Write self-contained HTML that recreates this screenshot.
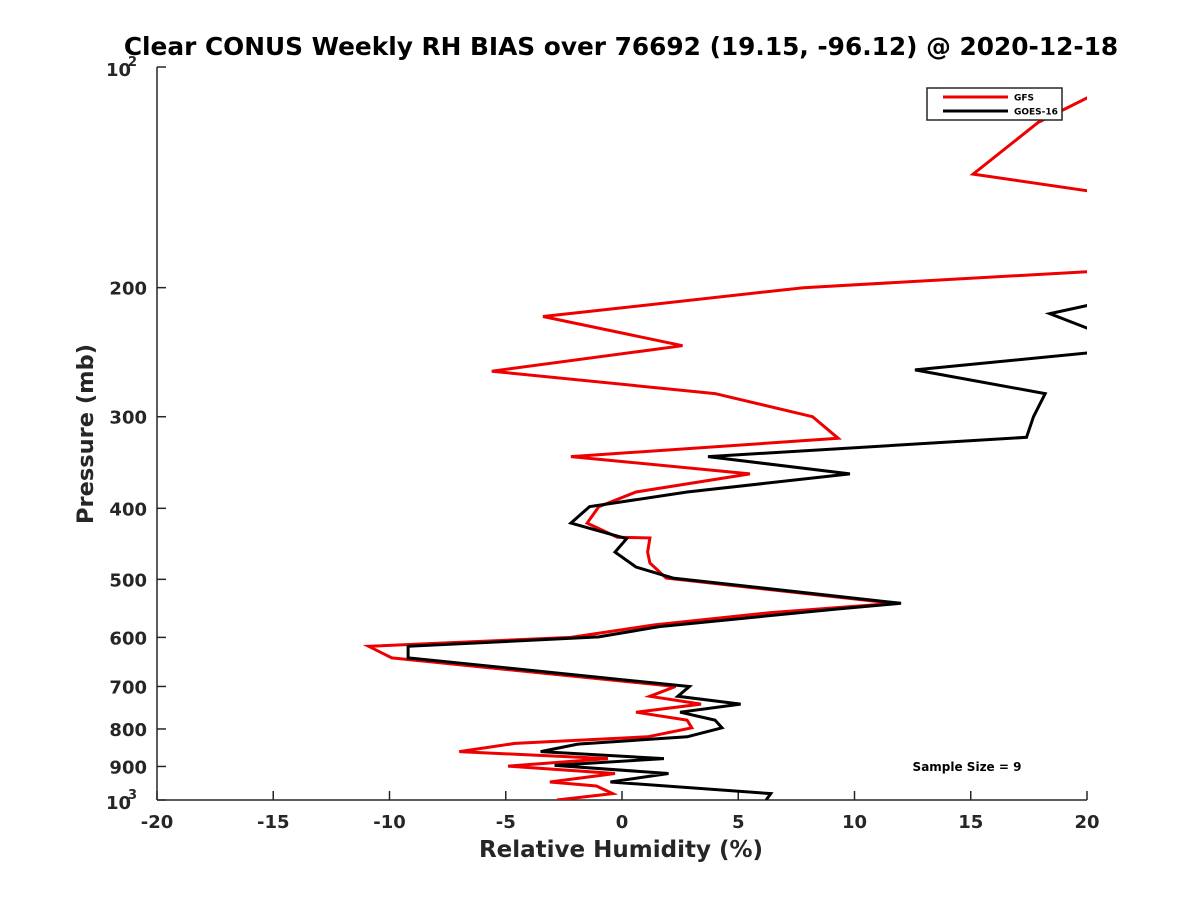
<!DOCTYPE html>
<html><head><meta charset="utf-8"><style>
body{margin:0;background:#fff;}
svg{display:block;font-family:"DejaVu Sans","Liberation Sans",sans-serif;font-weight:bold;}
</style></head><body>
<svg id="chart" width="1200" height="900" viewBox="0 0 1200 900">
<defs><clipPath id="plotclip"><rect x="157" y="67" width="930" height="733"/></clipPath></defs>
<rect width="1200" height="900" fill="#fff"/>
<text x="621" y="55" font-size="24.8" text-anchor="middle" fill="#000">Clear CONUS Weekly RH BIAS over 76692 (19.15, -96.12) @ 2020-12-18</text>
<g id="axes"></g>
<g id="series" clip-path="url(#plotclip)"></g>
<g>
<rect x="927" y="88" width="135" height="32" fill="#fff" stroke="#262626" stroke-width="1.5"/>
<line x1="943" y1="97" x2="1008" y2="97" stroke="#e00" stroke-width="3"/>
<text x="1014" y="100.5" font-size="9" fill="#000">GFS</text>
<line x1="943" y1="111" x2="1008" y2="111" stroke="#000" stroke-width="3"/>
<text x="1014" y="114.5" font-size="9" fill="#000">GOES-16</text>
</g>
<text x="967" y="771" font-size="12" text-anchor="middle" fill="#000">Sample Size = 9</text>
<text x="621" y="857" font-size="23" text-anchor="middle" fill="#262626">Relative Humidity (%)</text>
<text x="0" y="0" font-size="22.5" text-anchor="middle" fill="#262626" transform="translate(93,434) rotate(-90)">Pressure (mb)</text>
</svg>
<script>
const xTicks=[-20,-15,-10,-5,0,5,10,15,20];
const yTicks=[200,300,400,500,600,700,800,900];
const gfsRH=[20.3,17.9,15.1,20.3,30,20.3,7.8,-3.4,2.6,-5.6,4.0,8.2,9.3,-2.2,5.5,0.6,-1.0,-1.5,-0.2,1.2,1.1,1.2,1.9,11.7,6.4,1.4,-2.2,-10.9,-9.9,2.3,1.2,3.4,0.6,2.8,3.0,1.1,-4.6,-7.0,-0.6,-4.9,-0.3,-3.1,-1.1,-0.4,-2.8];
const gfsP=[109,119,140,148,170,190,200,219,240,260,279,300,321,340,359,380,398,419,438,439,459,475,498,539,555,577,600,617,640,700,722,740,759,778,797,820,837,859,878,899,920,945,957,980,1000];
const goesRH=[22,18.4,20.3,24,20.3,12.6,18.2,17.7,17.4,3.7,9.8,2.8,-1.4,-2.2,0.2,-0.3,0.6,2.2,12.0,9.2,1.6,-1.0,-9.2,-9.2,2.9,2.4,5.1,2.5,4.0,4.3,2.8,-1.9,-3.5,1.8,-2.9,2.0,-0.5,6.4,6.2];
const goesP=[205,217,229,237,245,259,279,300,320,340,359,380,398,419,440,459,481,498,539,549,580,599,617,640,700,722,740,759,778,797,820,839,859,878,897,920,945,980,1000];
const NS='http://www.w3.org/2000/svg';
const X0=157,X1=1087,Y0=67,Y1=800;
function xs(v){return X0+(v+20)/40*(X1-X0);}
function ys(p){return Y0+Math.log10(p/100)*(Y1-Y0);}
function mk(tag,attrs,parent){const e=document.createElementNS(NS,tag);for(const k in attrs)e.setAttribute(k,attrs[k]);parent.appendChild(e);return e;}
const axes=document.getElementById('axes');
let l=mk('line',{x1:X0,y1:Y1,x2:X1,y2:Y1,stroke:'#262626','stroke-width':1.5},axes);


l=mk('line',{x1:X0,y1:Y0,x2:X0,y2:Y1,stroke:'#262626','stroke-width':1.5},axes);


xTicks.forEach(v=>{
 const t=mk('line',{x1:xs(v),y1:Y1,x2:xs(v),y2:Y1-9,stroke:'#262626','stroke-width':1.5},axes);
 
 
 const tx=mk('text',{x:xs(v),y:Y1+28,'font-size':18,'text-anchor':'middle',fill:'#262626'},axes);
 tx.textContent=String(v);
 
 
});
[100].concat(yTicks,[1000]).forEach(p=>{
 const t=mk('line',{x1:X0,y1:ys(p),x2:X0+9,y2:ys(p),stroke:'#262626','stroke-width':1.5},axes);
 
 
});
yTicks.forEach(p=>{
 const tx=mk('text',{x:X0-10,y:ys(p)+7,'font-size':18,'text-anchor':'end',fill:'#262626'},axes);
 tx.textContent=String(p);
 
 
});
[[100,'2'],[1000,'3']].forEach(([p,e])=>{
 const tx=mk('text',{x:X0-51,y:ys(p)+9,'font-size':18,fill:'#262626'},axes);
 tx.textContent='10';
 
 
 const sp=mk('text',{x:X0-29,y:ys(p)-1,'font-size':13,fill:'#262626'},axes);
 sp.textContent=e;
 
 
});
const sg=document.getElementById('series');
function drawLine(vals,ps,color,name){
 const pts=vals.map((v,i)=>xs(v).toFixed(1)+','+ys(ps[i]).toFixed(1)).join(' ');
 const pl=mk('polyline',{points:pts,fill:'none',stroke:color,'stroke-width':3,'stroke-linejoin':'miter'},sg);
 
 
}
drawLine(gfsRH,gfsP,'#e00','gfs-line');
drawLine(goesRH,goesP,'#000','goes16-line');
</script>
</body></html>
